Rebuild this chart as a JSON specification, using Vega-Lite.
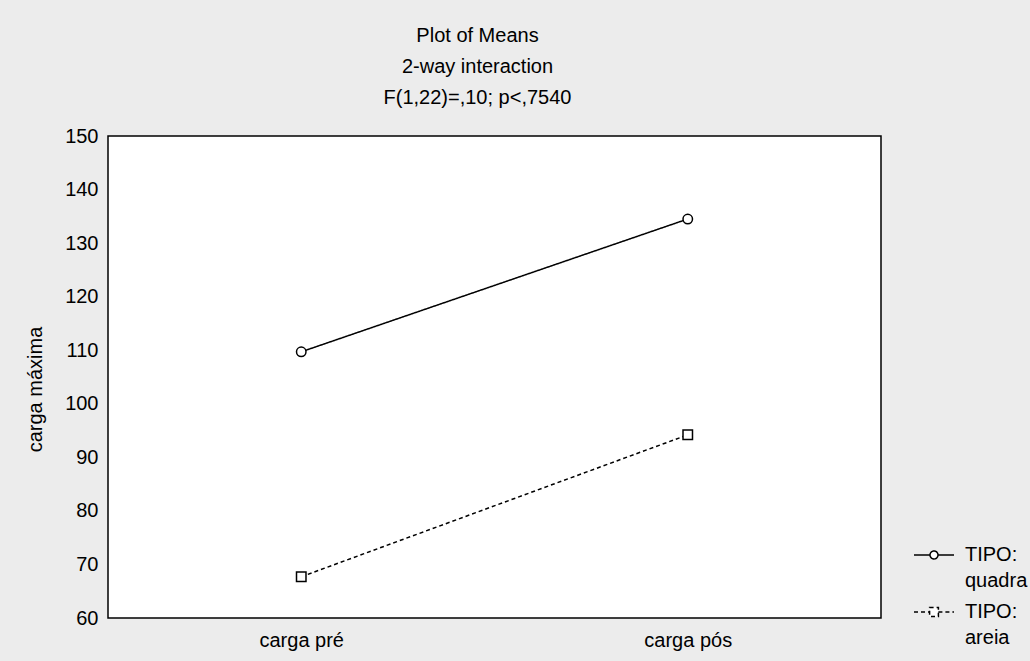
{
  "$schema": "https://vega.github.io/schema/vega-lite/v6.json",
  "width": 773,
  "height": 482,
  "autosize": {"type": "none"},
  "padding": {"left": 108, "top": 136, "right": 149, "bottom": 43},
  "background": "#ececec",
  "config": {
    "font": "Liberation Sans",
    "view": {"fill": "white", "stroke": "black", "strokeWidth": 1.5}
  },
  "title": {
    "text": ["Plot of Means", "2-way interaction", "F(1,22)=,10; p<,7540"],
    "fontSize": 20,
    "fontWeight": "normal",
    "font": "Liberation Sans",
    "color": "black",
    "lineHeight": 31,
    "offset": 18,
    "anchor": "middle",
    "dx": -17
  },
  "data": {
    "values": [
      {"carga": "carga pré", "tipo": "TIPO: quadra", "media": 109.7},
      {"carga": "carga pós", "tipo": "TIPO: quadra", "media": 134.5},
      {"carga": "carga pré", "tipo": "TIPO: areia", "media": 67.7},
      {"carga": "carga pós", "tipo": "TIPO: areia", "media": 94.2}
    ]
  },
  "encoding": {
    "x": {
      "field": "carga",
      "type": "nominal",
      "sort": ["carga pré", "carga pós"],
      "scale": {"type": "point", "padding": 0.5},
      "axis": {
        "title": null,
        "labelAngle": 0,
        "labelFontSize": 20,
        "labelColor": "black",
        "labelPadding": 12,
        "tickSize": 0,
        "domain": false,
        "grid": false
      }
    },
    "y": {
      "field": "media",
      "type": "quantitative",
      "scale": {"domain": [60, 150], "nice": false, "zero": false},
      "axis": {
        "title": "carga máxima",
        "titleFontSize": 20,
        "titleFontWeight": "normal",
        "titleColor": "black",
        "titleX": -73,
        "titleY": 253,
        "titleBaseline": "middle",
        "titleAlign": "center",
        "values": [60, 70, 80, 90, 100, 110, 120, 130, 140, 150],
        "labelFontSize": 20,
        "labelColor": "black",
        "labelPadding": 10,
        "tickSize": 0,
        "domain": false,
        "grid": false
      }
    }
  },
  "layer": [
    {
      "mark": {"type": "line", "color": "black", "strokeWidth": 1.5},
      "encoding": {
        "strokeDash": {
          "field": "tipo",
          "type": "nominal",
          "scale": {"domain": ["TIPO: quadra", "TIPO: areia"], "range": [[1, 0], [4, 3]]},
          "legend": {
            "title": null,
            "orient": "none",
            "legendX": 805,
            "legendY": 398,
            "labelFontSize": 20,
            "labelColor": "black",
            "labelExpr": "split(datum.label, ' ')",
            "labelLimit": 200,
            "labelOffset": 10,
            "symbolSize": 1600,
            "symbolStrokeColor": "black",
            "symbolStrokeWidth": 1.5,
            "symbolFillColor": "white",
            "rowPadding": 0,
            "encode": {
              "labels": {"update": {"lineHeight": {"value": 26}}},
              "symbols": {
                "update": {
                  "shape": {
                    "signal": "datum.value === 'TIPO: quadra' ? 'M-1,0H-0.2M0.2,0H1M-0.2,0A0.2,0.2 0 1,0 0.2,0A0.2,0.2 0 1,0 -0.2,0' : 'M-1,0H-0.22M0.22,0H1M-0.22,-0.22H0.22V0.22H-0.22Z'"
                  }
                }
              }
            }
          }
        }
      }
    },
    {
      "transform": [{"filter": "datum.tipo === 'TIPO: quadra'"}],
      "mark": {"type": "point", "shape": "circle", "filled": true, "fill": "white", "stroke": "black", "strokeWidth": 1.5, "size": 90, "opacity": 1}
    },
    {
      "transform": [{"filter": "datum.tipo === 'TIPO: areia'"}],
      "mark": {"type": "point", "shape": "square", "filled": true, "fill": "white", "stroke": "black", "strokeWidth": 1.5, "size": 90, "opacity": 1}
    }
  ]
}
